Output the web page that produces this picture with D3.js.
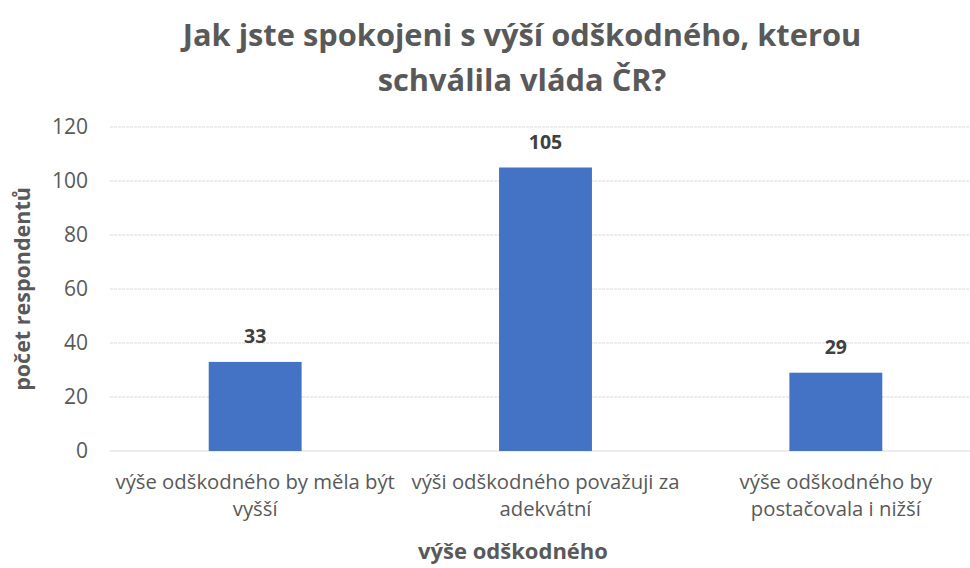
<!DOCTYPE html>
<html>
<head>
<meta charset="utf-8">
<script src="https://cdn.jsdelivr.net/npm/d3@7"></script>
<style>
  body { margin: 0; background: #fff; }
  svg text { font-family: "Open Sans", Lato, sans-serif; }
</style>
</head>
<body>
<div id="chart"></div>
<script>
const categories = [
  ["výše odškodného by měla být", "vyšší"],
  ["výši odškodného považuji za", "adekvátní"],
  ["výše odškodného by", "postačovala i nižší"]
];
const values = [33, 105, 29];
const yTicks = [0, 20, 40, 60, 80, 100, 120];
const titleLines = ["Jak jste spokojeni s výší odškodného, kterou", "schválila vláda ČR?"];
const yTitle = "počet respondentů";
const xTitle = "výše odškodného";

const W = 970, H = 568;
const plotLeft = 110, plotRight = 981, plotTop = 127, plotBottom = 451;

const svg = d3.select("#chart").append("svg")
  .attr("width", W).attr("height", H);

const x = d3.scaleBand()
  .domain(d3.range(values.length))
  .range([plotLeft, plotRight])
  .paddingInner(0.68)
  .paddingOuter(0.34);

const y = d3.scaleLinear().domain([0, 120]).range([plotBottom, plotTop]);

// gridlines
svg.append("g")
  .selectAll("line")
  .data(yTicks)
  .join("line")
  .attr("x1", plotLeft).attr("x2", W)
  .attr("y1", d => y(d)).attr("y2", d => y(d))
  .attr("stroke", "#d9d9d9")
  .attr("stroke-width", 1)
  .attr("stroke-dasharray", d => d === 0 ? null : "3,1");

// y tick labels
svg.append("g")
  .selectAll("text")
  .data(yTicks)
  .join("text")
  .attr("x", 88)
  .attr("y", d => y(d))
  .attr("dy", "0.35em")
  .attr("text-anchor", "end")
  .attr("font-size", 21)
  .attr("fill", "#595959")
  .text(d => d);

// bars
svg.append("g")
  .selectAll("rect")
  .data(values)
  .join("rect")
  .attr("x", (d, i) => x(i))
  .attr("y", d => y(d))
  .attr("width", x.bandwidth())
  .attr("height", d => y(0) - y(d))
  .attr("fill", "#4472c4");

// data labels
svg.append("g")
  .selectAll("text")
  .data(values)
  .join("text")
  .attr("x", (d, i) => x(i) + x.bandwidth() / 2)
  .attr("y", d => y(d) - 19)
  .attr("text-anchor", "middle")
  .attr("font-size", 19.5)
  .attr("font-weight", "bold")
  .attr("fill", "#404040")
  .text(d => d);

// category labels, one text per line
const catG = svg.append("g")
  .selectAll("g")
  .data(categories)
  .join("g")
  .attr("transform", (d, i) => `translate(${x(i) + x.bandwidth() / 2},489)`);
catG.selectAll("text")
  .data(d => d)
  .join("text")
  .attr("y", (d, i) => i * 27)
  .attr("text-anchor", "middle")
  .attr("font-size", 20.3)
  .attr("fill", "#595959")
  .text(d => d);

// axis titles
svg.append("text")
  .attr("transform", `translate(22,${(plotTop + plotBottom) / 2}) rotate(-90)`)
  .attr("text-anchor", "middle")
  .attr("dy", "0.35em")
  .attr("font-size", 21.5)
  .attr("font-weight", "bold")
  .attr("fill", "#595959")
  .text(yTitle);

svg.append("text")
  .attr("x", 513)
  .attr("y", 559)
  .attr("text-anchor", "middle")
  .attr("font-size", 22)
  .attr("font-weight", "bold")
  .attr("fill", "#595959")
  .text(xTitle);

// title
svg.append("text")
  .attr("text-anchor", "middle")
  .attr("font-size", 30.8)
  .attr("font-weight", "bold")
  .attr("fill", "#595959")
  .selectAll("tspan")
  .data(titleLines)
  .join("tspan")
  .attr("x", 522)
  .attr("y", (d, i) => 46 + i * 45)
  .text(d => d);
</script>
</body>
</html>
